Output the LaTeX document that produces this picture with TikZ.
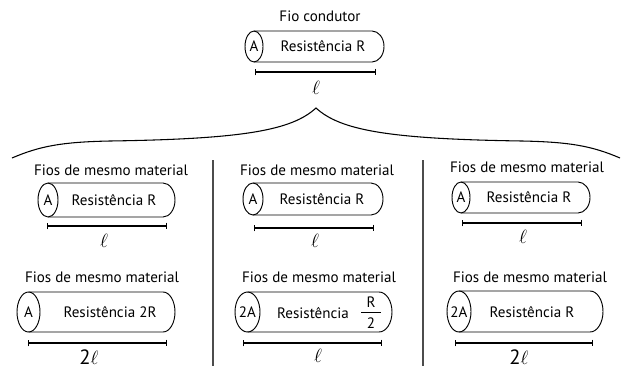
\documentclass[tikz,border=0pt]{standalone}
\usepackage{fontspec}
\setmainfont{PT Sans}
\usetikzlibrary{arrows.meta}

% Cylinder-shaped wire: left x, top y, right x, bottom y, left end radius, right end radius
\newcommand\wirecyl[6]{%
  \pgfmathsetmacro\cyc{(#2+#4)/2}%
  \pgfmathsetmacro\cyr{(#4-#2)/2}%
  \pgfmathsetmacro\cxl{#1+#5}%
  \pgfmathsetmacro\cxr{#3-#6}%
  \draw[wire] (\cxl,#2) -- (\cxr,#2)
    arc[start angle=-90,end angle=90,x radius=#6,y radius=\cyr] -- (\cxl,#4);
  \draw[wire] (\cxl,\cyc) ellipse[x radius=#5,y radius=\cyr];
}

\begin{document}
\begin{tikzpicture}[x=0.75pt,y=-0.75pt,
  txt/.style={font=\fontsize{11.3}{13}\selectfont,inner sep=0pt},
  elltxt/.style={font=\fontsize{14}{16}\selectfont,inner sep=0pt},
  wire/.style={line width=0.7pt},
  scalebar/.style={line width=1.1pt,{Bar[width=5pt]}-{Bar[width=5pt]}},
  fracbar/.style={line width=0.6pt},
  divider/.style={line width=0.8pt,black!70},
  bracepath/.style={line width=0.8pt}]
\useasboundingbox (0,0) rectangle (627,371);

% ---- original conductor ----
\node[txt] (t0) at (320,16) {Fio condutor};
\wirecyl{245}{31}{384}{62}{9}{12}
\node[txt] (a0) at (254,46.5) {A};
\node[txt] (r0) at (323,46.5) {Resistência R};
\coordinate (s0a) at (255,72); \coordinate (s0b) at (376,72);
\draw[scalebar] (s0a) -- (s0b);
\node[elltxt] (l0) at (316,88) {$\ell$};

% ---- brace ----
\coordinate (btip) at (316,108);
\coordinate (bl) at (12,158);
\coordinate (br) at (620,158);
\draw[bracepath] (bl) .. controls (40,146) and (62,142) .. (110,141)
  .. controls (245,139) and (292,130) .. (btip)
  .. controls (340,130) and (387,139) .. (522,141)
  .. controls (570,142) and (592,146) .. (br);

% ---- dividers ----
\coordinate (d1a) at (213,160); \coordinate (d1b) at (213,366);
\coordinate (d2a) at (423,160); \coordinate (d2b) at (423,366);
\draw[divider] (d1a) -- (d1b);
\draw[divider] (d2a) -- (d2b);

% ---- column 1 ----
\node[txt] (t11) at (111,170) {Fios de mesmo material};
\wirecyl{38}{183}{175}{217}{10}{12}
\node[txt] (a11) at (48,200) {A};
\node[txt] (r11) at (114,200) {Resistência R};
\coordinate (s11a) at (47,226); \coordinate (s11b) at (167,226);
\draw[scalebar] (s11a) -- (s11b);
\node[elltxt] (l11) at (104,241) {$\ell$};

\node[txt] (t12) at (102,277) {Fios de mesmo material};
\wirecyl{17}{292}{175}{332}{11.5}{12}
\node[txt] (a12) at (28.5,312) {A};
\node[txt] (r12) at (110,312) {Resistência 2R};
\coordinate (s12a) at (28,343); \coordinate (s12b) at (167,343);
\draw[scalebar] (s12a) -- (s12b);
\node[inner sep=0pt] (l12) at (89,357) {{\fontsize{15.5}{17}\selectfont 2}{\fontsize{14}{16}\selectfont$\ell$}};

% ---- column 2 ----
\node[txt] (t21) at (317,170) {Fios de mesmo material};
\wirecyl{243}{183}{383}{215}{10}{12}
\node[txt] (a21) at (253,199) {A};
\node[txt] (r21) at (322,199) {Resistência R};
\coordinate (s21a) at (254,228); \coordinate (s21b) at (374,228);
\draw[scalebar] (s21a) -- (s21b);
\node[elltxt] (l21) at (315,241) {$\ell$};

\node[txt] (t22) at (319,277) {Fios de mesmo material};
\wirecyl{235}{292}{392}{332}{12.5}{13}
\node[txt] (a22) at (247.5,312) {2A};
\node[txt] (r22) at (313,313) {Resistência};
\node[txt] (fn22) at (371,302.5) {R};
\node[txt] (fd22) at (371,323) {2};
\coordinate (fb22a) at (361,312.5); \coordinate (fb22b) at (381,312.5);
\draw[fracbar] (fb22a) -- (fb22b);
\coordinate (s22a) at (243,343); \coordinate (s22b) at (382,343);
\draw[scalebar] (s22a) -- (s22b);
\node[elltxt] (l22) at (318,356) {$\ell$};

% ---- column 3 ----
\node[txt] (t31) at (527,167) {Fios de mesmo material};
\wirecyl{452}{182}{590}{213}{9}{12}
\node[txt] (a31) at (461,197.5) {A};
\node[txt] (r31) at (529,197.5) {Resistência R};
\coordinate (s31a) at (462,223); \coordinate (s31b) at (582,223);
\draw[scalebar] (s31a) -- (s31b);
\node[elltxt] (l31) at (523,237) {$\ell$};

\node[txt] (t32) at (530,277) {Fios de mesmo material};
\wirecyl{447}{291}{603}{332}{12}{13}
\node[txt] (a32) at (459,312) {2A};
\node[txt] (r32) at (532,312) {Resistência R};
\coordinate (s32a) at (455,343); \coordinate (s32b) at (593,343);
\draw[scalebar] (s32a) -- (s32b);
\node[inner sep=0pt] (l32) at (519,357) {{\fontsize{15.5}{17}\selectfont 2}{\fontsize{14}{16}\selectfont$\ell$}};
\end{tikzpicture}
\end{document}
